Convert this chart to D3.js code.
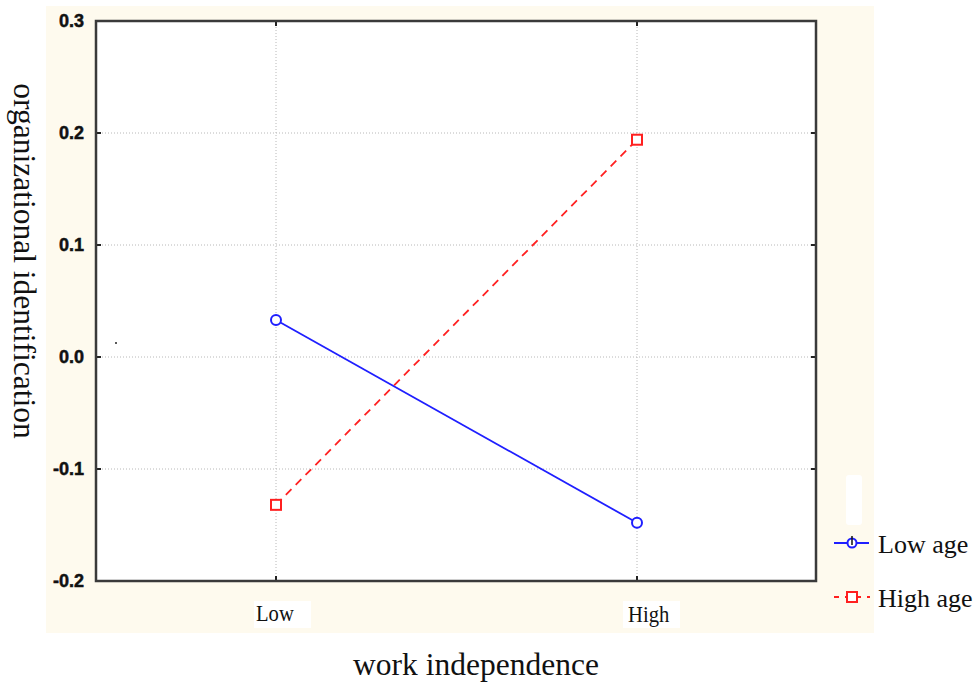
<!DOCTYPE html>
<html>
<head>
<meta charset="utf-8">
<script src="https://cdn.jsdelivr.net/npm/d3@7"></script>
<style>
  body { margin: 0; background: #ffffff; }
</style>
</head>
<body>
<div id="chart"></div>
<script>
let categories = ["Low", "High"];
let seriesNames = ["Low age", "High age"];
let lowAge = [0.033, -0.148];
let highAge = [-0.132, 0.194];
let yTicks = [0.3, 0.2, 0.1, 0.0, -0.1, -0.2];

let width = 980, height = 688;
let plotLeft = 96, plotRight = 816, plotTop = 21, plotBottom = 581;

let svg = d3.select("#chart").append("svg")
  .attr("width", width)
  .attr("height", height);

// cream panel behind the plot
svg.append("rect")
  .attr("x", 46).attr("y", 6)
  .attr("width", 828).attr("height", 627)
  .attr("fill", "#fefaee");

svg.append("rect")
  .attr("x", plotLeft).attr("y", plotTop)
  .attr("width", plotRight - plotLeft).attr("height", plotBottom - plotTop)
  .attr("fill", "#ffffff");

// categories sit at about a quarter and three quarters of the frame
let x = d3.scalePoint()
  .domain(categories)
  .range([276, 637]);

let y = d3.scaleLinear()
  .domain([-0.2, 0.3])
  .range([plotBottom, plotTop]);

// grid
let grid = svg.append("g")
  .attr("stroke", "#b8b8b8")
  .attr("stroke-width", 1)
  .attr("stroke-dasharray", "1,2");

yTicks.filter(function(t) { return t > -0.2 && t < 0.3; }).forEach(function(t) {
  grid.append("line")
    .attr("x1", plotLeft).attr("x2", plotRight)
    .attr("y1", y(t)).attr("y2", y(t));
});

categories.forEach(function(c) {
  grid.append("line")
    .attr("x1", x(c)).attr("x2", x(c))
    .attr("y1", plotTop).attr("y2", plotBottom);
});

// ticks
let tickLen = 5;
yTicks.forEach(function(t) {
  svg.append("line")
    .attr("x1", plotLeft).attr("x2", plotLeft + tickLen)
    .attr("y1", y(t)).attr("y2", y(t))
    .attr("stroke", "#222").attr("stroke-width", 2);
  svg.append("line")
    .attr("x1", plotRight).attr("x2", plotRight - tickLen)
    .attr("y1", y(t)).attr("y2", y(t))
    .attr("stroke", "#222").attr("stroke-width", 2);
});
categories.forEach(function(c) {
  svg.append("line")
    .attr("x1", x(c)).attr("x2", x(c))
    .attr("y1", plotBottom).attr("y2", plotBottom - tickLen)
    .attr("stroke", "#222").attr("stroke-width", 2);
  svg.append("line")
    .attr("x1", x(c)).attr("x2", x(c))
    .attr("y1", plotTop).attr("y2", plotTop + tickLen)
    .attr("stroke", "#222").attr("stroke-width", 2);
});

// frame
svg.append("rect")
  .attr("x", plotLeft).attr("y", plotTop)
  .attr("width", plotRight - plotLeft).attr("height", plotBottom - plotTop)
  .attr("fill", "none")
  .attr("stroke", "#3a3a3a")
  .attr("stroke-width", 2.5);

// stray dot left of the frame
svg.append("circle")
  .attr("cx", 116).attr("cy", 343).attr("r", 1)
  .attr("fill", "#222");

// y tick labels
svg.append("g").selectAll("text")
  .data(yTicks)
  .join("text")
  .attr("x", plotLeft - 12)
  .attr("y", function(d) { return y(d); })
  .attr("dy", "0.36em")
  .attr("text-anchor", "end")
  .attr("font-family", "'Liberation Sans', Arial, sans-serif")
  .attr("font-weight", "bold")
  .attr("font-size", 18)
  .attr("fill", "#111")
  .attr("stroke", "#111")
  .attr("stroke-width", 0.5)
  .text(function(d) { return d.toFixed(1); });

// x tick labels on white boxes
let boxShift = [-22, -14];
categories.forEach(function(c, i) {
  let bx = x(c) + boxShift[i];
  let g = svg.append("g");
  g.append("rect")
    .attr("x", bx).attr("y", 601)
    .attr("width", 57).attr("height", 27)
    .attr("fill", "#ffffff");
  g.append("text")
    .attr("transform", "translate(" + (bx + 2 + i * 3) + "," + (621 + i) + ") scale(0.86,1)")
    .attr("font-family", "'Liberation Serif', 'Times New Roman', serif")
    .attr("font-size", 24)
    .attr("fill", "#111")
    .text(c);
});

// lines
let line = d3.line()
  .x(function(d, i) { return x(categories[i]); })
  .y(function(d) { return y(d); });

svg.append("path")
  .datum(lowAge)
  .attr("d", line)
  .attr("fill", "none")
  .attr("stroke", "#1f1fff")
  .attr("stroke-width", 1.8);

svg.append("path")
  .datum(highAge)
  .attr("d", line)
  .attr("fill", "none")
  .attr("stroke", "#ff2020")
  .attr("stroke-width", 1.8)
  .attr("stroke-dasharray", "8,6");

svg.append("g").selectAll("circle")
  .data(lowAge)
  .join("circle")
  .attr("cx", function(d, i) { return x(categories[i]); })
  .attr("cy", function(d) { return y(d); })
  .attr("r", 5)
  .attr("fill", "#ffffff")
  .attr("stroke", "#1f1fff")
  .attr("stroke-width", 2);

svg.append("g").selectAll("rect")
  .data(highAge)
  .join("rect")
  .attr("x", function(d, i) { return x(categories[i]) - 5; })
  .attr("y", function(d) { return y(d) - 5; })
  .attr("width", 10).attr("height", 10)
  .attr("fill", "#ffffff")
  .attr("stroke", "#ff2020")
  .attr("stroke-width", 2);

// axis titles
svg.append("text")
  .attr("transform", "translate(14," + 261 + ") rotate(90)")
  .attr("text-anchor", "middle")
  .attr("font-family", "'Liberation Serif', 'Times New Roman', serif")
  .attr("font-size", 31.5)
  .attr("fill", "#111")
  .text("organizational identification");

svg.append("text")
  .attr("x", 476)
  .attr("y", 675)
  .attr("text-anchor", "middle")
  .attr("font-family", "'Liberation Serif', 'Times New Roman', serif")
  .attr("font-size", 31.5)
  .attr("fill", "#111")
  .text("work independence");

// legend
let legendY = [543, 597];
let lg = svg.append("g");

// white smudge above the legend, as in the picture
lg.append("rect")
  .attr("x", 846).attr("y", 475)
  .attr("width", 16).attr("height", 50)
  .attr("rx", 3)
  .attr("fill", "#ffffff");

lg.append("line")
  .attr("x1", 834).attr("x2", 869)
  .attr("y1", legendY[0]).attr("y2", legendY[0])
  .attr("stroke", "#1f1fff").attr("stroke-width", 1.8);
lg.append("circle")
  .attr("cx", 852).attr("cy", legendY[0]).attr("r", 4.5)
  .attr("fill", "#ffffff").attr("stroke", "#1f1fff").attr("stroke-width", 2);
lg.append("line")
  .attr("x1", 852).attr("x2", 852)
  .attr("y1", legendY[0] - 7).attr("y2", legendY[0] + 2)
  .attr("stroke", "#111").attr("stroke-width", 1.5);
lg.append("line")
  .attr("x1", 834).attr("x2", 870)
  .attr("y1", legendY[1]).attr("y2", legendY[1])
  .attr("stroke", "#ff2020").attr("stroke-width", 1.8)
  .attr("stroke-dasharray", "5,6");
lg.append("rect")
  .attr("x", 847).attr("y", legendY[1] - 5)
  .attr("width", 10).attr("height", 10)
  .attr("fill", "#ffffff").attr("stroke", "#ff2020").attr("stroke-width", 2);

lg.selectAll("text")
  .data(seriesNames)
  .join("text")
  .attr("x", 878)
  .attr("y", function(d, i) { return legendY[i] + 10; })
  .attr("font-family", "'Liberation Serif', 'Times New Roman', serif")
  .attr("font-size", 26)
  .attr("fill", "#111")
  .text(function(d) { return d; });
</script>
</body>
</html>
